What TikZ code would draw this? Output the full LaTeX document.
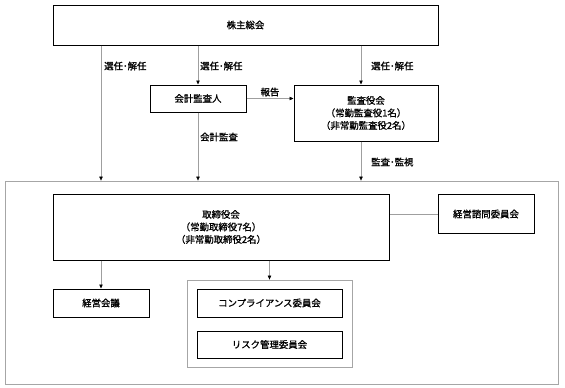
\documentclass[tikz,border=0pt]{standalone}
\usepackage{fontspec}
\setmainfont{Noto Sans CJK JP}[AutoFakeBold=1.2]
\usetikzlibrary{positioning,arrows.meta,fit,calc}

\begin{document}
\begin{tikzpicture}[
    x=1pt, y=-1pt,
    font=\fontsize{9.4}{12.5}\selectfont\bfseries,
    box/.style={draw, line width=1pt, inner sep=0pt, align=center},
    frame/.style={draw=gray!70, line width=0.8pt, inner sep=0pt},
    arr/.style={-{Triangle[length=1.4mm, width=1.2mm, color=black]}, draw=gray!75, line width=0.6pt},
    conn/.style={draw=gray!75, line width=0.6pt},
    lbl/.style={inner sep=0pt, anchor=west}
]
\useasboundingbox (0,0) rectangle (565,388);
% outer company frame
\node[frame, minimum width=553pt, minimum height=203pt] (company) at (281.5,282.5) {};
% top level
\node[box, minimum width=385pt, minimum height=40pt] (gm) at (245.5,25) {株主総会};
\node[box, minimum width=96pt, minimum height=27pt] (auditor) at (198,98.5) {会計監査人};
\node[box, minimum width=144pt, minimum height=56pt] (kansa) at (366,113) {監査役会\\（常勤監査役1名）\\（非常勤監査役2名）};
\coordinate (xright) at (361,0);
% inside the company
\node[box, minimum width=336pt, minimum height=66pt] (board) at (221,227) {取締役会\\（常勤取締役7名）\\（非常勤取締役2名）};
\node[box, minimum width=96pt, minimum height=39pt] (advisory) at (486,214) {経営諮問委員会};
\node[box, minimum width=96pt, minimum height=28pt] (mgmt) at (101,303) {経営会議};
\node[box, minimum width=145pt, minimum height=28pt] (compliance) at (269.5,303) {コンプライアンス委員会};
\node[box, minimum width=145pt, minimum height=27pt, below=13pt of compliance] (risk) {リスク管理委員会};
\node[frame, fit=(compliance)(risk), inner xsep=9.5pt, inner ysep=8.5pt] (committees) {};
% connectors
\draw[arr] (gm.south -| mgmt) -- (company.north -| mgmt);
\draw[arr] (gm.south -| auditor) -- (auditor.north);
\draw[arr] (auditor.south) -- (company.north -| auditor);
\draw[arr] (gm.south -| xright) -- (kansa.north -| xright);
\draw[arr] (kansa.south -| xright) -- (company.north -| xright);
\draw[arr] (auditor.east) -- (auditor.east -| kansa.west);
\draw[conn] (advisory.west) -- (advisory.west -| board.east);
\draw[arr] (board.south -| mgmt) -- (mgmt.north);
\draw[arr] (board.south -| committees) -- (committees.north);
% labels
\node[lbl] (l1) at (104,66) {選任･解任};
\node[lbl] (l2) at (200,66) {選任･解任};
\node[lbl] (l3) at (371,66) {選任･解任};
\node[inner sep=0pt] (l4) at (270,92) {報告};
\node[lbl] (l5) at (200,137) {会計監査};
\node[lbl] (l6) at (371,162) {監査･監視};
\end{tikzpicture}
\end{document}
